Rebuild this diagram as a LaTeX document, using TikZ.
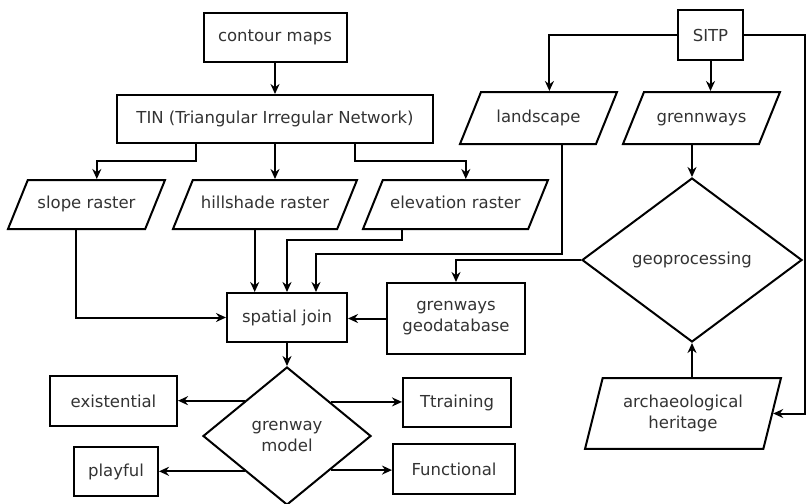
\documentclass[tikz,border=0pt]{standalone}
\usepackage{fontspec}
\setmainfont{DejaVu Sans}
\usetikzlibrary{shapes.geometric,positioning,arrows.meta,calc}
\tikzset{
  >={Stealth[length=10pt,width=9pt]},
  every node/.style={font=\fontsize{16.5}{21}\selectfont, text=black!80},
}

\begin{document}
\begin{tikzpicture}[
  x=1pt, y=-1pt,
  ->, line width=2pt,
  box/.style={draw, rectangle, minimum height=49pt, inner sep=2pt},
  data/.style={draw, trapezium, trapezium left angle=68, trapezium right angle=112,
    trapezium stretches body, text height=12pt, text depth=4pt, inner xsep=2pt, inner ysep=16.5pt},
  choice/.style={draw, diamond, inner sep=0pt, align=center}
]
\useasboundingbox (0,0) rectangle (807,504);

% terrain branch
\node[box, minimum width=143pt] (contour) at (275,37.5) {contour maps};
\node[box, minimum width=316pt, minimum height=48pt] (tin) at (275,119) {TIN (Triangular Irregular Network)};
\node[data, minimum width=157pt] (slope) at (86.5,204.5) {slope raster};
\node[data, minimum width=184pt] (hill) at (265,204.5) {hillshade raster};
\node[data, minimum width=185pt] (elev) at (455.5,204.5) {elevation raster};

% SITP branch
\node[box, minimum width=65pt, minimum height=50pt] (sitp) at (710.5,35) {SITP};
\node[data, minimum width=157pt, inner ysep=18pt] (land) at (538.5,118) {landscape};
\node[data, minimum width=157pt, inner ysep=18pt] (green) at (701.5,118) {grennways};
\node[choice, minimum width=220pt, minimum height=164pt] (geo) at (692,260) {geoprocessing};
\node[data, trapezium left angle=76, trapezium right angle=104, minimum width=196pt,
  text height=, text depth=, inner ysep=17pt, align=center] (arch) at (683,413.5) {archaeological\\heritage};
\node[box, minimum width=138pt, minimum height=71pt, align=center] (geodb) at (456,318.5) {grenways\\geodatabase};

% model
\node[box, minimum width=120pt] (join) at (287,317.5) {spatial join};
\node[choice, minimum width=168pt, minimum height=138pt] (model) at (287,436) {grenway\\model};
\node[box, minimum width=127pt, minimum height=50pt] (exist) at (113.5,401) {existential};
\node[box, minimum width=108pt] (train) at (457,402.5) {Ttraining};
\node[box, minimum width=84pt] (play) at (116,471.5) {playful};
\node[box, minimum width=122pt, minimum height=50pt] (func) at (454,469) {Functional};

\coordinate (rim) at (805,35);

\draw (contour) -- (tin);
\draw ([xshift=-79pt]tin.south) -- ++(0,17) -| (slope.top side);
\draw (tin.south) -- (tin.south |- hill.north);
\draw ([xshift=80pt]tin.south) -- ++(0,17) -| (elev.top side);

\draw (sitp.west) -| (land.top side);
\draw (sitp.south) -- (sitp.south |- green.north);
\draw (sitp.east) -- (rim) |- (arch.right side);
\draw (geo.north |- green.south) -- (geo.north);
\draw (geo.south |- arch.north) -- (geo.south);
\draw (geo.west) -| (geodb.north);

\draw (geodb.west) -- (geodb.west -| join.east);
\draw (slope.bottom side) |- (join.west);
\draw (hill.bottom side) -- (hill.bottom side |- join.north);
\draw ([xshift=-43pt]elev.bottom side) -- ++(0,10) -| (join.north);
\draw ([xshift=34pt]land.bottom side) -- ++(0,109) -| ([xshift=29pt]join.north);

\draw (join) -- (model);
\draw (model.140) -- (model.140 -| exist.east);
\draw (model.38) -- (model.38 -| train.west);
\draw (model.220) -- (model.220 -| play.east);
\draw (model.322) -- (model.322 -| func.west);

\end{tikzpicture}
\end{document}
